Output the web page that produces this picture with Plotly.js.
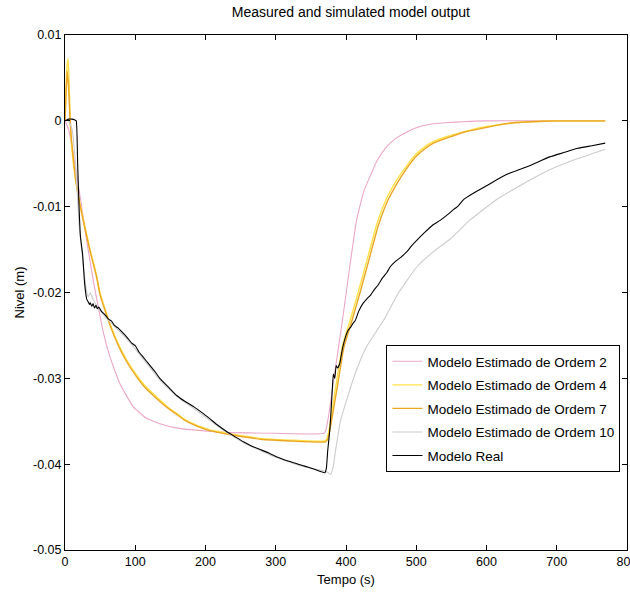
<!DOCTYPE html>
<html>
<head>
<meta charset="utf-8">
<script src="https://cdn.plot.ly/plotly-3.0.1.min.js"></script>
<style>html,body{margin:0;padding:0;background:#fff;}#chart{width:630px;height:599px;}</style>
</head>
<body>
<div id="chart"></div>
<script>
// ---- data ----
const seriesNames = ["Modelo Estimado de Ordem 2", "Modelo Estimado de Ordem 4", "Modelo Estimado de Ordem 7", "Modelo Estimado de Ordem 10", "Modelo Real"];

const tOrd2 = [0, 5, 10, 20, 30, 40, 50, 55, 64, 78, 97, 115, 135, 160, 183, 230, 300, 369, 372, 375, 378, 385, 395, 405, 415, 425, 434, 445, 458, 470, 482, 500, 520, 545, 567, 600, 700, 769];
const vOrd2 = [0, -0.001, -0.003, -0.008, -0.0135, -0.0185, -0.0228, -0.0248, -0.0275, -0.0306, -0.0333, -0.0346, -0.0353, -0.0358, -0.0360, -0.0363, -0.0364, -0.0364, -0.0358, -0.0345, -0.0328, -0.0288, -0.0232, -0.0172, -0.0116, -0.0083, -0.0065, -0.0045, -0.0030, -0.0021, -0.0015, -0.0008, -0.0004, -0.0002, -0.0001, 0, 0, 0];

const tOrd4 = [0, 1, 3, 4.5, 6, 7.5, 10, 15, 21, 28, 36, 45, 50, 64, 76, 88, 100, 111, 123, 135, 147, 159, 171, 183, 195, 206, 218, 230, 254, 278, 320, 370, 373, 377, 385, 395, 406, 418, 430, 444, 458, 472, 484, 496, 508, 520, 545, 567, 590, 614, 640, 662, 700, 769];
const vOrd4 = [0, 0.003, 0.0065, 0.0072, 0.004, 0.0, -0.0035, -0.0068, -0.0095, -0.0122, -0.0151, -0.0180, -0.0201, -0.0236, -0.0260, -0.0279, -0.0294, -0.0306, -0.0316, -0.0325, -0.0334, -0.0341, -0.0348, -0.0353, -0.0357, -0.0360, -0.0362, -0.0364, -0.0367, -0.0370, -0.0372, -0.0373, -0.0370, -0.0355, -0.0312, -0.0262, -0.0232, -0.0198, -0.0162, -0.0120, -0.0090, -0.0069, -0.0055, -0.0042, -0.0033, -0.0026, -0.0018, -0.0013, -0.0008, -0.0005, -0.0002, -0.0001, 0, 0];

const tOrd7 = [0, 1, 3, 5, 7, 9, 12, 15, 21, 28, 36, 45, 50, 64, 76, 88, 100, 111, 123, 135, 147, 159, 171, 183, 195, 206, 218, 230, 254, 278, 320, 371, 374, 378, 387, 397, 408, 420, 432, 446, 460, 474, 486, 498, 510, 522, 547, 569, 592, 616, 642, 664, 700, 769];
const vOrd7 = [0, 0.002, 0.0058, 0.004, 0.0005, -0.002, -0.0045, -0.0068, -0.0097, -0.0124, -0.0153, -0.0182, -0.0203, -0.0238, -0.0262, -0.0281, -0.0296, -0.0308, -0.0318, -0.0327, -0.0335, -0.0342, -0.0349, -0.0354, -0.0358, -0.0361, -0.0363, -0.0365, -0.0368, -0.0371, -0.0373, -0.0374, -0.0371, -0.0356, -0.0313, -0.0264, -0.0234, -0.0200, -0.0164, -0.0122, -0.0092, -0.0071, -0.0056, -0.0043, -0.0034, -0.0027, -0.0019, -0.0013, -0.0009, -0.0005, -0.0002, -0.0001, 0, 0];

const tOrd10 = [0, 5, 10, 15, 20, 25, 30, 33, 36, 40, 45, 57, 88, 111, 135, 159, 183, 206, 230, 254, 278, 300, 340, 370, 375, 378, 382, 385, 392, 401, 415, 430, 453, 475, 501, 525, 548, 576, 614, 662, 690, 730, 769];
const vOrd10 = [0, 0, -0.001, -0.005, -0.012, -0.016, -0.0195, -0.0205, -0.0200, -0.0208, -0.0215, -0.0228, -0.0254, -0.0277, -0.0302, -0.0321, -0.0335, -0.0349, -0.0363, -0.0375, -0.0384, -0.0392, -0.0403, -0.0408, -0.0410, -0.0412, -0.0402, -0.0385, -0.0350, -0.0325, -0.0290, -0.0262, -0.0233, -0.0200, -0.0170, -0.0152, -0.0138, -0.0116, -0.0092, -0.0069, -0.0057, -0.0044, -0.0033];

const tReal = [0, 5, 10, 14, 16, 18, 20, 22, 25, 28, 31, 33, 35, 36, 38, 40, 42, 44, 46, 48, 52, 57, 62, 66, 70, 75, 80, 88, 95, 100, 105, 111, 120, 128, 135, 147, 159, 171, 183, 195, 206, 218, 230, 242, 254, 266, 278, 290, 300, 320, 340, 355, 370, 372, 374, 377, 380, 382, 384, 386, 388, 391, 395, 400, 403, 407, 410, 413, 418, 424, 430, 435, 440, 446, 452, 458, 463, 470, 478, 486, 493, 501, 512, 524, 534, 545, 552, 560, 567, 580, 595, 614, 630, 646, 662, 676, 690, 710, 730, 750, 769];
const vReal = [0, 0.0002, 0.0002, 0.0001, 0, -0.005, -0.010, -0.0135, -0.0155, -0.0190, -0.0208, -0.0211, -0.0214, -0.0212, -0.0216, -0.0213, -0.0218, -0.0215, -0.0219, -0.0217, -0.0222, -0.0226, -0.0231, -0.0233, -0.0238, -0.0241, -0.0245, -0.0252, -0.0259, -0.0262, -0.0269, -0.0275, -0.0284, -0.0292, -0.0300, -0.0310, -0.0320, -0.0327, -0.0333, -0.0340, -0.0347, -0.0355, -0.0362, -0.0368, -0.0374, -0.0379, -0.0383, -0.0387, -0.0391, -0.0397, -0.0402, -0.0406, -0.0410, -0.0405, -0.0384, -0.0360, -0.0320, -0.0295, -0.0300, -0.0285, -0.0288, -0.0283, -0.0265, -0.0250, -0.0244, -0.0240, -0.0236, -0.0233, -0.0222, -0.0213, -0.0207, -0.0203, -0.0197, -0.0191, -0.0183, -0.0177, -0.0170, -0.0164, -0.0159, -0.0153, -0.0146, -0.0139, -0.0130, -0.0121, -0.0116, -0.0109, -0.0104, -0.0099, -0.0092, -0.0085, -0.0078, -0.0069, -0.0062, -0.0057, -0.0052, -0.0047, -0.0042, -0.0037, -0.0032, -0.0029, -0.0026];

const xTicks = [0, 100, 200, 300, 400, 500, 600, 700, 800];
const yTicks = [0.01, 0, -0.01, -0.02, -0.03, -0.04, -0.05];
const yTickText = ["0.01", "0", "-0.01", "-0.02", "-0.03", "-0.04", "-0.05"];

const FONT = '"Liberation Sans", Arial, Helvetica, sans-serif';

const colors = ["#eaa6c8", "#ffe24a", "#eba624", "#cccccc", "#000000"];
const xs = [tOrd2, tOrd4, tOrd7, tOrd10, tReal];
const ys = [vOrd2, vOrd4, vOrd7, vOrd10, vReal];

const traces = seriesNames.map((n, i) => ({
  x: xs[i], y: ys[i], name: n, type: 'scatter', mode: 'lines',
  line: {color: colors[i], width: (i === 1 || i === 2) ? 1.4 : 1.1, shape: 'spline', smoothing: 0.4},
  legendgroup: 'g' + i, legendrank: i + 1
}));

const layout = {
  width: 630, height: 599,
  margin: {l: 65, r: 3, t: 35, b: 49},
  paper_bgcolor: '#fff', plot_bgcolor: '#fff',
  font: {family: FONT, size: 13, color: '#000'},
  title: {text: 'Measured and simulated model output', font: {family: FONT, size: 14, color: '#000'}, x: 0.557, xanchor: 'center', y: 0.988, yanchor: 'top'},
  showlegend: true,
  legend: {
    x: 0.572, y: 0.398, xanchor: 'left', yanchor: 'top',
    bgcolor: '#fff', bordercolor: '#000', borderwidth: 1,
    font: {family: FONT, size: 13.5, color: '#000'},
    traceorder: 'grouped', tracegroupgap: 3,
    itemwidth: 30
  },
  xaxis: {
    range: [0, 800], tickmode: 'array', tickvals: xTicks, ticktext: xTicks.map(String),
    ticks: 'inside', ticklen: 5, tickcolor: '#000', showline: true, linecolor: '#000', linewidth: 1,
    mirror: 'ticks', showgrid: false, zeroline: false, ticklabeloverflow: 'allow',
    tickfont: {family: FONT, size: 12.5},
    title: {text: 'Tempo (s)', font: {family: FONT, size: 13}, standoff: 6}
  },
  yaxis: {
    range: [-0.05, 0.01], tickmode: 'array', tickvals: yTicks, ticktext: yTickText,
    ticks: 'inside', ticklen: 5, tickcolor: '#000', showline: true, linecolor: '#000', linewidth: 1,
    mirror: 'ticks', showgrid: false, zeroline: false,
    tickfont: {family: FONT, size: 12.5},
    title: {text: 'Nivel (m)', font: {family: FONT, size: 13}, standoff: 5}
  }
};

Plotly.newPlot('chart', traces, layout, {displayModeBar: false, staticPlot: true});
</script>
</body>
</html>
